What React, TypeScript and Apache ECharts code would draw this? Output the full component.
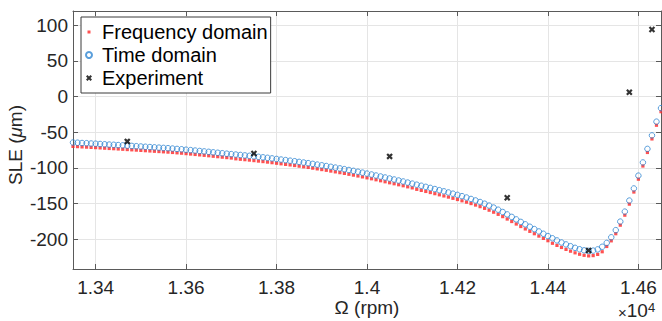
import React, { useEffect, useRef } from "react";
import * as echarts from "echarts";

// Rotor speed samples (rpm)
const speedRpm = [
  13350, 13360, 13370, 13380, 13390, 13400, 13410, 13420, 13430, 13440,
  13450, 13460, 13470, 13480, 13490, 13500, 13510, 13520, 13530, 13540,
  13550, 13560, 13570, 13580, 13590, 13600, 13610, 13620, 13630, 13640,
  13650, 13660, 13670, 13680, 13690, 13700, 13710, 13720, 13730, 13740,
  13750, 13760, 13770, 13780, 13790, 13800, 13810, 13820, 13830, 13840,
  13850, 13860, 13870, 13880, 13890, 13900, 13910, 13920, 13930, 13940,
  13950, 13960, 13970, 13980, 13990, 14000, 14010, 14020, 14030, 14040,
  14050, 14060, 14070, 14080, 14090, 14100, 14110, 14120, 14130, 14140,
  14150, 14160, 14170, 14180, 14190, 14200, 14210, 14220, 14230, 14240,
  14250, 14260, 14270, 14280, 14290, 14300, 14310, 14320, 14330, 14340,
  14350, 14360, 14370, 14380, 14390, 14400, 14410, 14420, 14430, 14440,
  14450, 14460, 14470, 14480, 14490, 14500, 14510, 14520, 14530, 14540,
  14550, 14560, 14570, 14580, 14590, 14600, 14610, 14620, 14630, 14640,
  14650,
];

// Frequency domain SLE (um)
const freqDomain = [
  -70.0, -70.3, -70.7, -71.0, -71.4, -71.7, -72.1, -72.5, -72.9, -73.2,
  -73.6, -74.0, -74.4, -74.8, -75.2, -75.6, -76.0, -76.4, -76.8, -77.2,
  -77.6, -78.0, -78.5, -79.0, -79.5, -80.1, -80.7, -81.3, -81.9, -82.5,
  -83.1, -83.8, -84.4, -85.1, -85.7, -86.3, -87.4, -88.0, -88.6, -89.2,
  -89.9, -90.6, -91.3, -92.0, -92.8, -93.6, -94.4, -95.2, -96.0, -96.8,
  -97.7, -98.6, -99.5, -100.5, -101.5, -102.5, -103.5, -104.6, -105.7, -106.8,
  -107.9, -109.1, -110.3, -111.5, -112.8, -114.1, -115.4, -116.8, -118.2, -119.6,
  -121.0, -122.4, -123.8, -125.2, -126.7, -128.2, -130.2, -131.7, -133.2, -134.7,
  -136.3, -137.9, -139.5, -141.1, -142.8, -144.5, -146.3, -148.2, -150.2, -152.3,
  -154.5, -156.9, -159.5, -162.3, -165.3, -168.5, -171.9, -175.4, -178.9, -182.4,
  -185.8, -189.2, -192.5, -195.8, -199.1, -202.3, -205.9, -208.9, -211.8, -214.5,
  -217.0, -219.3, -221.3, -222.8, -223.6, -223.2, -221.5, -217.8, -210.4, -202.5,
  -192.5, -180.5, -166.5, -151.0, -134.0, -116.0, -97.5, -78.5, -59.5, -40.3,
  -21.3,
];

// Time domain SLE (um)
const timeDomain = [
  -64.5, -64.8, -65.2, -65.5, -65.9, -66.2, -66.6, -67.0, -67.4, -67.7,
  -68.1, -68.5, -68.9, -69.3, -69.7, -70.1, -70.5, -70.9, -71.3, -71.7,
  -72.1, -72.5, -73.0, -73.5, -74.0, -74.6, -75.2, -75.8, -76.4, -77.0,
  -77.6, -78.3, -78.9, -79.6, -80.2, -80.8, -81.4, -82.0, -82.6, -83.2,
  -83.9, -84.6, -85.3, -86.0, -86.8, -87.6, -88.4, -89.2, -90.0, -90.8,
  -91.7, -92.6, -93.5, -94.5, -95.5, -96.5, -97.5, -98.6, -99.7, -100.8,
  -101.9, -103.1, -104.3, -105.5, -106.8, -108.1, -109.4, -110.8, -112.2, -113.6,
  -115.0, -116.4, -117.8, -119.2, -120.7, -122.2, -123.7, -125.2, -126.7, -128.2,
  -129.8, -131.4, -133.0, -134.6, -136.3, -138.0, -139.8, -141.7, -143.7, -145.8,
  -148.0, -150.4, -153.0, -155.8, -158.8, -162.0, -165.4, -168.9, -172.4, -175.9,
  -179.3, -182.7, -186.0, -189.3, -192.6, -195.8, -198.9, -201.9, -204.8, -207.5,
  -210.0, -212.3, -214.3, -215.8, -216.6, -216.2, -214.5, -210.8, -205.4, -197.5,
  -187.5, -175.5, -161.5, -146.0, -129.0, -111.0, -92.5, -73.5, -54.5, -35.3,
  -16.3,
];

// Experiment
const expRpm = [13470, 13750, 14050, 14310, 14490, 14580, 14630];
const expSle = [-63, -80, -84, -142, -216, 6, 94];

const seriesNames = ["Frequency domain", "Time domain", "Experiment"];

const xMin = 13350;
const xMax = 14650;
const yMin = -242;
const yMax = 120;

const FONT = "'Liberation Sans', Arial, Helvetica, sans-serif";
const TXT = "#262626";
const AX = "#5a5a5a";

const crossPath =
  "path://M0,2.4L2.4,0L5,2.6L7.6,0L10,2.4L7.4,5L10,7.6L7.6,10L5,7.4L2.4,10L0,7.6L2.6,5Z";
const dotIcon = "path://M0,0M10,10M2.5,2.5L7.5,2.5L7.5,7.5L2.5,7.5Z";

export default function App() {
  const ref = useRef<HTMLDivElement>(null);

  useEffect(() => {
    document.body.style.margin = "0";
    if (!ref.current) return;
    const chart = echarts.init(ref.current, undefined, { renderer: "svg" });

    const freqData = speedRpm.map((x, i) => [x, freqDomain[i]]);
    const timeData = speedRpm.map((x, i) => [x, timeDomain[i]]);
    const expData = expRpm.map((x, i) => [x, expSle[i]]);

    const xLabel = (v: number) => {
      const s = (v / 10000).toFixed(2);
      return s.endsWith("0") ? s.slice(0, -1) : s;
    };

    chart.setOption({
      animation: false,
      textStyle: { fontFamily: FONT },
      grid: { left: 73, top: 11, width: 588, height: 258, containLabel: false },
      legend: {
        orient: "vertical",
        left: 81,
        top: 17,
        padding: [5, 3, 5, 4],
        itemGap: 3,
        itemWidth: 16,
        itemHeight: 6,
        backgroundColor: "#ffffff",
        borderColor: "#3a3a3a",
        borderWidth: 1,
        textStyle: { fontFamily: FONT, fontSize: 20, color: "#000" },
        data: [
          { name: seriesNames[0], icon: dotIcon },
          { name: seriesNames[1], icon: "circle" },
          { name: seriesNames[2], icon: crossPath },
        ],
      },
      xAxis: [
        {
          type: "value",
          min: xMin,
          max: xMax,
          splitNumber: 7,
          axisLine: { show: true, onZero: false, lineStyle: { color: AX, width: 1 } },
          axisTick: { show: true, inside: true, length: 5, lineStyle: { color: AX } },
          axisLabel: {
            formatter: xLabel,
            color: TXT,
            fontSize: 19,
            fontFamily: FONT,
            margin: 9,
            showMinLabel: false,
            showMaxLabel: false,
          },
          splitLine: { show: true, lineStyle: { color: "#e5e5e5", width: 1 } },
        },
        {
          type: "value",
          position: "top",
          min: xMin,
          max: xMax,
          splitNumber: 7,
          axisLine: { show: true, onZero: false, lineStyle: { color: AX, width: 1 } },
          axisTick: { show: true, inside: true, length: 5, lineStyle: { color: AX } },
          axisLabel: { show: false },
          splitLine: { show: false },
        },
      ],
      yAxis: [
        {
          type: "value",
          min: yMin,
          max: yMax,
          splitNumber: 7,
          axisLine: { show: true, onZero: false, lineStyle: { color: AX, width: 1 } },
          axisTick: { show: true, inside: true, length: 5, lineStyle: { color: AX } },
          axisLabel: {
            color: TXT,
            fontSize: 19,
            fontFamily: FONT,
            margin: 5,
            showMinLabel: false,
            showMaxLabel: false,
          },
          splitLine: { show: true, lineStyle: { color: "#e5e5e5", width: 1 } },
        },
        {
          type: "value",
          position: "right",
          min: yMin,
          max: yMax,
          splitNumber: 7,
          axisLine: { show: true, onZero: false, lineStyle: { color: AX, width: 1 } },
          axisTick: { show: true, inside: true, length: 5, lineStyle: { color: AX } },
          axisLabel: { show: false },
          splitLine: { show: false },
        },
      ],
      series: [
        {
          name: seriesNames[0],
          type: "scatter",
          data: freqData,
          symbol: "rect",
          symbolSize: 3.2,
          itemStyle: { color: "#ff2626" },
          z: 2,
        },
        {
          name: seriesNames[1],
          type: "scatter",
          data: timeData,
          symbol: "circle",
          symbolSize: 5.5,
          itemStyle: { color: "rgba(255,255,255,0)", borderColor: "#2f86d2", borderWidth: 1 },
          z: 3,
        },
        {
          name: seriesNames[2],
          type: "scatter",
          data: expData,
          symbol: crossPath,
          symbolSize: 6.5,
          itemStyle: { color: "#000000" },
          z: 4,
        },
      ],
      graphic: [
        {
          type: "text",
          x: 15,
          y: 145,
          rotation: Math.PI / 2,
          style: {
            text: "SLE ({i|μ}m)",
            fontFamily: FONT,
            fontSize: 19,
            fill: TXT,
            textAlign: "center",
            textVerticalAlign: "middle",
            rich: {
              i: { fontStyle: "italic", fontSize: 19, fontFamily: FONT, fill: TXT },
            },
          },
        },
        {
          type: "text",
          x: 367,
          y: 307,
          style: {
            text: "Ω (rpm)",
            fontFamily: FONT,
            fontSize: 19,
            fill: TXT,
            textAlign: "center",
            textVerticalAlign: "middle",
          },
        },
        {
          type: "text",
          x: 618,
          y: 301,
          style: {
            text: "{a|×}{b|10}{c|4}",
            fontFamily: FONT,
            fontSize: 19,
            fill: TXT,
            textAlign: "left",
            textVerticalAlign: "top",
            rich: {
              a: { fontSize: 15, fontFamily: FONT, fill: TXT, verticalAlign: "bottom" },
              b: { fontSize: 19, fontFamily: FONT, fill: TXT, verticalAlign: "bottom" },
              c: { fontSize: 13, fontFamily: FONT, fill: TXT, verticalAlign: "top" },
            },
          },
        },
      ],
    });

    return () => chart.dispose();
  }, []);

  return <div ref={ref} style={{ width: 662, height: 321 }} />;
}
